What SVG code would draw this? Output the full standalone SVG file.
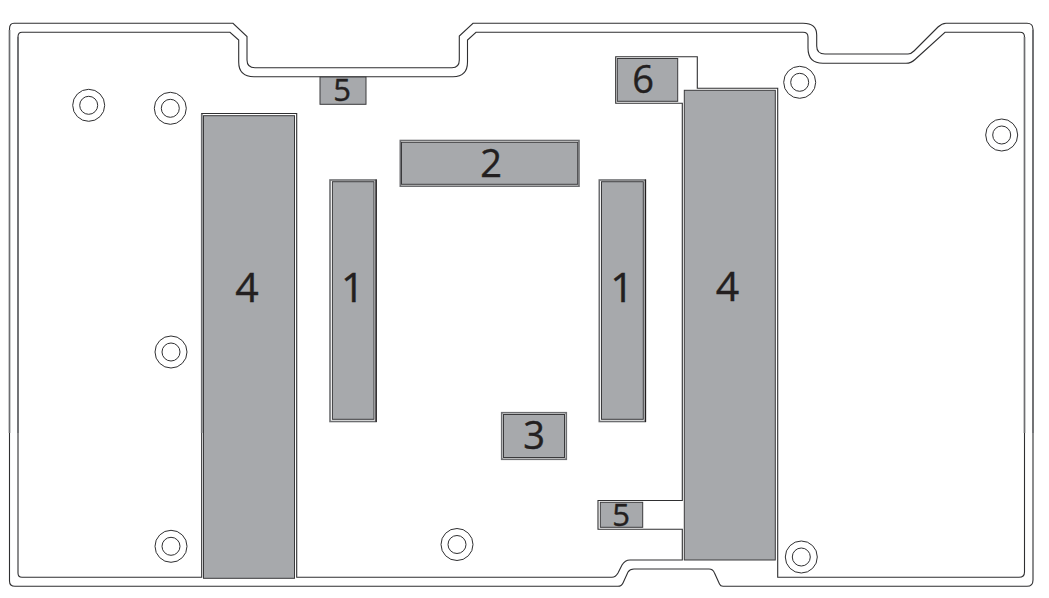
<svg xmlns="http://www.w3.org/2000/svg" width="1049" height="598" viewBox="0 0 1049 598">
<style>
.line{fill:none;stroke:#2f2f31;stroke-width:1.1}
.lg{fill:none;stroke:#6d6e71;stroke-width:1.6}
.dk{fill:none;stroke:#231f20;stroke-width:1.2}
.box{fill:#a7a9ac;stroke:#3a3a3c;stroke-width:1}
.ring{fill:#fff;stroke:#2f2f31;stroke-width:1}
text{font-family:"Open Sans","Liberation Sans",sans-serif;fill:#231f20;stroke:#231f20;stroke-width:.4;text-anchor:middle}
.big{font-size:41px}
.mid{font-size:38px}
.sm{font-size:31px}
</style>
<rect width="1049" height="598" fill="#fff"/>
<g id="board">
<path class="line" d="M14 23.3H233L247 36.5V60Q247 67.7 255 67.7H452Q459.3 67.7 459.3 60V36L473 23.3H803Q816.7 23.3 816.7 35V46Q816.7 54 825 54H908Q911 54 914 51L938 27Q942 23.3 946 23.3H1027Q1033 23.3 1033 29.3V580Q1033 586.3 1027 586.3H723Q720.5 586.3 719.5 584L714.5 573Q713 569 709 569H634Q630 569 628 572L623 583Q621.5 586.3 618 586.3H15Q9.5 586.3 9.5 581V29Q9.5 23.3 14 23.3Z"/>
<path class="line" d="M22 32.3H230L238.7 40V62Q238.7 76.7 254 76.7H453Q467.5 76.7 467.5 62V40L476 32.3H803Q808 32.3 808 37V48Q808 63.3 823 63.3H906Q911 63.3 915 59.5L945 32.3H1020Q1024.5 32.3 1024.5 37V572Q1024.5 577.3 1019 577.3H777.7V88.3H697.3V56.7H615.7V103.3H682.3V500.5H598V529.3H682.3V560H630Q625 560 622 565L618 573Q615.5 577.3 612 577.3H296.7V113.5H201.7V577.3H22Q18 577.3 18 573V37Q18 32.3 22 32.3Z"/>
<path class="lg" d="M9.5 30V433M18 37V433M1033 30V433M1024.5 37V433M201.7 114V433"/>
</g>
<g id="holes">
<g id="hole-1"><circle class="ring" cx="88.7" cy="105.3" r="16"/><circle class="ring" cx="88.7" cy="105.3" r="9"/></g>
<g id="hole-2"><circle class="ring" cx="170.3" cy="108.3" r="16"/><circle class="ring" cx="170.3" cy="108.3" r="9"/></g>
<g id="hole-3"><circle class="ring" cx="171" cy="352" r="16"/><circle class="ring" cx="171" cy="352" r="9"/></g>
<g id="hole-4"><circle class="ring" cx="171" cy="546.3" r="16"/><circle class="ring" cx="171" cy="546.3" r="9"/></g>
<g id="hole-5"><circle class="ring" cx="457" cy="544.5" r="16"/><circle class="ring" cx="457" cy="544.5" r="9"/></g>
<g id="hole-6"><circle class="ring" cx="801.3" cy="557" r="16"/><circle class="ring" cx="801.3" cy="557" r="9"/></g>
<g id="hole-7"><circle class="ring" cx="799.7" cy="82.3" r="16"/><circle class="ring" cx="799.7" cy="82.3" r="9"/></g>
<g id="hole-8"><circle class="ring" cx="1001.7" cy="135" r="16"/><circle class="ring" cx="1001.7" cy="135" r="9"/></g>
</g>
<g id="pad-4-left"><rect class="box" x="203.5" y="115.7" width="91" height="462.6"/><text class="big" x="247" y="302">4</text></g>
<g id="pad-4-right"><rect class="box" x="684.3" y="90.3" width="91" height="469.7"/><text class="big" x="727.5" y="301">4</text></g>
<g id="pad-1-left"><rect class="lg" x="330" y="180" width="46" height="241.5"/><rect class="box" x="332.4" y="181.7" width="41.6" height="237.6"/><path class="dk" d="M376.2 179.5V422"/><text class="big" x="352.8" y="302">1</text></g>
<g id="pad-1-right"><rect class="lg" x="599.3" y="180" width="46" height="241.5"/><rect class="box" x="601.5" y="181.7" width="41.8" height="237.6"/><path class="dk" d="M645.5 179.5V422"/><text class="big" x="622" y="302">1</text></g>
<g id="pad-2"><rect class="lg" x="400.3" y="140.5" width="178.7" height="45.7"/><rect class="box" x="401.5" y="142.3" width="176.2" height="42"/><text class="mid" x="491" y="177">2</text></g>
<g id="pad-3"><rect class="lg" x="501.7" y="412.7" width="64.6" height="46.6"/><rect class="box" x="503.5" y="414.5" width="61" height="43"/><text class="mid" x="534" y="449">3</text></g>
<g id="pad-5-top"><rect class="box" x="320" y="77" width="46" height="27.3"/><text class="sm" x="342" y="101">5</text></g>
<g id="pad-5-bottom"><rect class="box" x="600.3" y="502.3" width="42.4" height="25"/><text class="sm" x="621" y="526">5</text></g>
<g id="pad-6"><rect class="box" x="617.3" y="58.5" width="60.4" height="42.8"/><text class="mid" x="643" y="93">6</text></g>
</svg>
